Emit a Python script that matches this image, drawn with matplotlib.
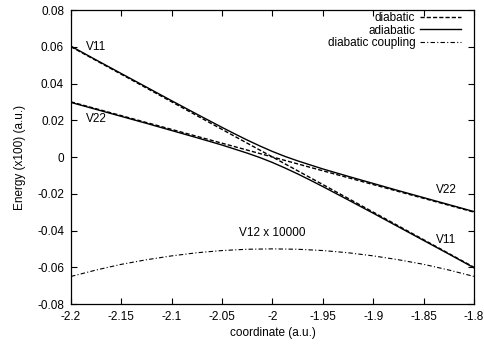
import numpy as np
import matplotlib
matplotlib.use("Agg")
import matplotlib.pyplot as plt

#Diabatic potentials read at the x ticks
x_dia = [-2.2, -2.15, -2.1, -2.05, -2.0, -1.95, -1.9, -1.85, -1.8]
v11 = [0.06, 0.045, 0.03, 0.015, 0.0, -0.015, -0.03, -0.045, -0.06]
v22 = [0.03, 0.0225, 0.015, 0.0075, 0.0, -0.0075, -0.015, -0.0225, -0.03]

#Adiabatic potentials (upper and lower surface)
x_adia = [-2.2, -2.175, -2.15, -2.125, -2.1, -2.075, -2.05, -2.0375, -2.025, -2.0125, -2.0,
          -1.9875, -1.975, -1.9625, -1.95, -1.925, -1.9, -1.875, -1.85, -1.825, -1.8]
upper = [0.0603, 0.0528, 0.0454, 0.0380, 0.0306, 0.0233, 0.0161, 0.0126, 0.0092, 0.0060, 0.0030,
         0.0003, -0.0021, -0.0043, -0.0065, -0.0105, -0.0144, -0.0183, -0.0221, -0.0259, -0.0297]
lower = [0.0297, 0.0259, 0.0221, 0.0183, 0.0144, 0.0105, 0.0065, 0.0043, 0.0021, -0.0003, -0.0030,
         -0.0060, -0.0092, -0.0126, -0.0161, -0.0233, -0.0306, -0.0380, -0.0454, -0.0528, -0.0603]

#Diabatic coupling (x 10000)
x_coup = [-2.2, -2.175, -2.15, -2.125, -2.1, -2.075, -2.05, -2.025, -2.0,
          -1.975, -1.95, -1.925, -1.9, -1.875, -1.85, -1.825, -1.8]
coupling = [-0.0650, -0.0615, -0.0584, -0.0559, -0.0538, -0.0521, -0.0509, -0.0502, -0.0500,
            -0.0502, -0.0509, -0.0521, -0.0538, -0.0559, -0.0584, -0.0615, -0.0650]

plt.rcParams['font.family'] = ['Liberation Sans', 'DejaVu Sans']
plt.rcParams['font.size'] = 8.5

fig = plt.figure(figsize=(4.85, 3.45), dpi=100)
ax = fig.add_axes([0.1464, 0.1188, 0.8309, 0.8522])

#diabatic curves
ax.plot(x_dia, v11, color='black', lw=1.0, ls=(0, (3, 1.5)), label='diabatic')
ax.plot(x_dia, v22, color='black', lw=1.0, ls=(0, (3, 1.5)))

#adiabatic curves
ax.plot(x_adia, upper, color='black', lw=1.0, label='adiabatic')
ax.plot(x_adia, lower, color='black', lw=1.0)

#coupling
ax.plot(x_coup, coupling, color='black', lw=0.8, ls=(0, (4, 2, 1, 2)), label='diabatic coupling')

#curve labels
ax.text(-2.185, 0.0599, 'V11', va='center')
ax.text(-2.185, 0.0207, 'V22', va='center')
ax.text(-1.838, -0.018, 'V22', va='center')
ax.text(-1.838, -0.045, 'V11', va='center')
ax.text(-2.0, -0.0414, 'V12 x 10000', va='center', ha='center')

ax.set_xlim(-2.2, -1.8)
ax.set_ylim(-0.08, 0.08)
ax.set_xticks(x_dia)
ax.set_xticklabels(['-2.2', '-2.15', '-2.1', '-2.05', '-2', '-1.95', '-1.9', '-1.85', '-1.8'])
ax.set_yticks([-0.08, -0.06, -0.04, -0.02, 0, 0.02, 0.04, 0.06, 0.08])
ax.set_yticklabels(['-0.08', '-0.06', '-0.04', '-0.02', '0', '0.02', '0.04', '0.06', '0.08'])
ax.tick_params(direction='in', top=True, right=True, length=4, width=0.8, pad=5)
for s in ax.spines.values():
    s.set_linewidth(0.9)

ax.set_xlabel('coordinate (a.u.)', labelpad=3)
ax.set_ylabel('Energy (x100) (a.u.)', labelpad=8)

ax.legend(loc='upper right', markerfirst=False, frameon=False, handlelength=3.5,
          labelspacing=0.02, handletextpad=0.4, borderaxespad=0.0, bbox_to_anchor=(0.98, 1.008))

fig.savefig('out.png', dpi=100)
